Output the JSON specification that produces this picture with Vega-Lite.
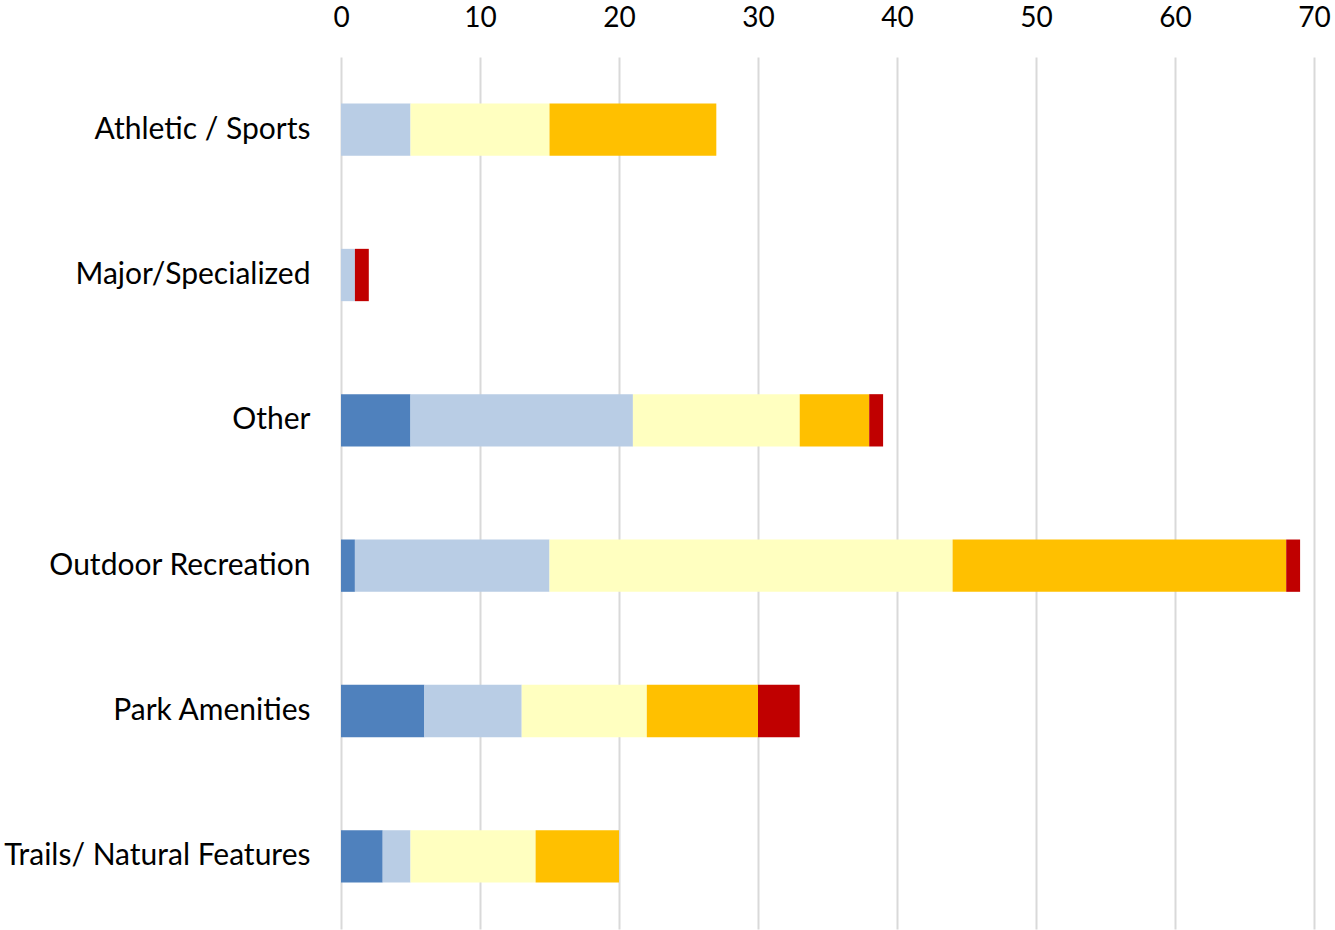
{
  "$schema": "https://vega.github.io/schema/vega-lite/v6.json",
  "width": 973,
  "height": 872,
  "autosize": {"type": "none"},
  "padding": {"left": 341, "top": 57, "right": 21, "bottom": 1},
  "background": "white",
  "data": {
    "values": [
      {"category": "Athletic / Sports", "series": "S1", "ord": 1, "value": 0},
      {"category": "Athletic / Sports", "series": "S2", "ord": 2, "value": 5},
      {"category": "Athletic / Sports", "series": "S3", "ord": 3, "value": 10},
      {"category": "Athletic / Sports", "series": "S4", "ord": 4, "value": 12},
      {"category": "Athletic / Sports", "series": "S5", "ord": 5, "value": 0},
      {"category": "Major/Specialized", "series": "S1", "ord": 1, "value": 0},
      {"category": "Major/Specialized", "series": "S2", "ord": 2, "value": 1},
      {"category": "Major/Specialized", "series": "S3", "ord": 3, "value": 0},
      {"category": "Major/Specialized", "series": "S4", "ord": 4, "value": 0},
      {"category": "Major/Specialized", "series": "S5", "ord": 5, "value": 1},
      {"category": "Other", "series": "S1", "ord": 1, "value": 5},
      {"category": "Other", "series": "S2", "ord": 2, "value": 16},
      {"category": "Other", "series": "S3", "ord": 3, "value": 12},
      {"category": "Other", "series": "S4", "ord": 4, "value": 5},
      {"category": "Other", "series": "S5", "ord": 5, "value": 1},
      {"category": "Outdoor Recreation", "series": "S1", "ord": 1, "value": 1},
      {"category": "Outdoor Recreation", "series": "S2", "ord": 2, "value": 14},
      {"category": "Outdoor Recreation", "series": "S3", "ord": 3, "value": 29},
      {"category": "Outdoor Recreation", "series": "S4", "ord": 4, "value": 24},
      {"category": "Outdoor Recreation", "series": "S5", "ord": 5, "value": 1},
      {"category": "Park Amenities", "series": "S1", "ord": 1, "value": 6},
      {"category": "Park Amenities", "series": "S2", "ord": 2, "value": 7},
      {"category": "Park Amenities", "series": "S3", "ord": 3, "value": 9},
      {"category": "Park Amenities", "series": "S4", "ord": 4, "value": 8},
      {"category": "Park Amenities", "series": "S5", "ord": 5, "value": 3},
      {"category": "Trails/ Natural Features", "series": "S1", "ord": 1, "value": 3},
      {"category": "Trails/ Natural Features", "series": "S2", "ord": 2, "value": 2},
      {"category": "Trails/ Natural Features", "series": "S3", "ord": 3, "value": 9},
      {"category": "Trails/ Natural Features", "series": "S4", "ord": 4, "value": 6},
      {"category": "Trails/ Natural Features", "series": "S5", "ord": 5, "value": 0}
    ]
  },
  "mark": {"type": "bar"},
  "encoding": {
    "y": {
      "field": "category",
      "type": "nominal",
      "sort": null,
      "scale": {"paddingInner": 0.64, "paddingOuter": 0.32},
      "axis": {
        "title": null,
        "domain": false,
        "ticks": false,
        "labelPadding": 31,
        "labelFontSize": 30,
        "labelFont": "Lato",
        "labelColor": "#000000",
        "labelLimit": 400
      }
    },
    "x": {
      "field": "value",
      "type": "quantitative",
      "stack": "zero",
      "scale": {"domain": [0, 70], "nice": false},
      "axis": {
        "orient": "top",
        "title": null,
        "domain": false,
        "ticks": false,
        "values": [0, 10, 20, 30, 40, 50, 60, 70],
        "labelPadding": 31,
        "labelBaseline": "alphabetic",
        "labelFontSize": 28,
        "labelFont": "Lato",
        "labelColor": "#000000",
        "grid": true,
        "gridColor": "#D9D9D9",
        "gridWidth": 2,
        "labelFlush": false
      }
    },
    "color": {
      "field": "series",
      "type": "nominal",
      "scale": {
        "domain": ["S1", "S2", "S3", "S4", "S5"],
        "range": ["#4F81BD", "#B9CDE5", "#FFFFC0", "#FFC000", "#C00000"]
      },
      "legend": null
    },
    "order": {"field": "ord", "type": "quantitative"}
  },
  "config": {"view": {"stroke": null}}
}
